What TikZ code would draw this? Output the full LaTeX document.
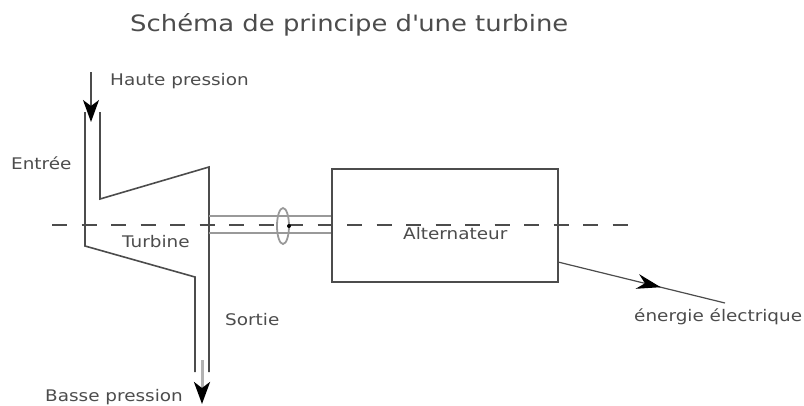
\documentclass[tikz,border=0pt]{standalone}
\usepackage{fontspec}
\setmainfont[FakeStretch=1.15]{DejaVu Sans}
\usetikzlibrary{arrows.meta,decorations.markings}
\definecolor{ink}{gray}{0.3}
\definecolor{txt}{gray}{0.3}
\tikzset{
  wall/.style={draw=ink,line width=1.6pt,line join=miter},
  shaft/.style={draw=gray!80,line width=1.8pt},
  axisline/.style={draw=ink,line width=1.2pt,dash pattern=on 15pt off 14.5pt},
  flow/.style={draw=ink,line width=1.2pt,-{Stealth[length=22pt,width=16pt,inset=6pt,color=black]}},
  lab/.style={text=txt,font=\fontsize{16}{18}\selectfont,inner sep=0pt,anchor=base west},
  midhead/.style={decoration={markings,mark=at position 0.615 with {\arrow{Stealth[length=24pt,width=15pt,color=black]}}},postaction={decorate}}
}
\begin{document}
\begin{tikzpicture}[x=1pt,y=-1pt]
\useasboundingbox (0,0) rectangle (804,405);
\coordinate (a1) at (85,112); \coordinate (a2) at (85,246); \coordinate (a3) at (195,277); \coordinate (a4) at (195,372);
\coordinate (b1) at (100,112); \coordinate (b2) at (100,199); \coordinate (b3) at (209,167); \coordinate (b4) at (209,372);
\coordinate (c1) at (209,216); \coordinate (c2) at (331,216); \coordinate (d1) at (209,233); \coordinate (d2) at (331,233);
\coordinate (ax1) at (52,225); \coordinate (ax2) at (630,225);
\coordinate (in1) at (91,72); \coordinate (in2) at (91,122);
\coordinate (out1) at (202,360); \coordinate (out2) at (202,404);
\coordinate (el1) at (558,262); \coordinate (el2) at (725,303);
\node[draw=ink,line width=1.6pt,minimum width=226pt,minimum height=113pt,inner sep=0pt] (alt) at (445,225.5) {};
\draw[wall] (a1) -- (a2) -- (a3) -- (a4);
\draw[wall] (b1) -- (b2) -- (b3) -- (b4);
\draw[shaft] (c1) -- (c2);
\draw[shaft] (d1) -- (d2);
\draw[axisline] (ax1) -- (ax2);
\draw[shaft] (283,226) ellipse [x radius=6,y radius=18];
\fill[black] (289,226) circle [radius=2];
\draw[flow] (in1) -- (in2);
\draw[flow,draw=gray!60,line width=3pt] (out1) -- (out2);
\draw[draw=ink,line width=1.2pt,midhead] (el1) -- (el2);
\node[inner sep=0pt,anchor=base west,text=txt,font=\fontsize{22.5}{26}\selectfont] (title) at (130,31) {Schéma de principe d\textquotesingle une turbine};
\node[lab] (haute) at (110,85) {Haute pression};
\node[lab] (entree) at (11,169) {Entrée};
\node[lab] (turb) at (122,247) {Turbine};
\node[lab] (sortie) at (225,325) {Sortie};
\node[lab] (basse) at (45,401) {Basse pression};
\node[lab] (altn) at (403,239) {Alternateur};
\node[lab] (en) at (634,321) {énergie électrique};
\end{tikzpicture}
\end{document}
